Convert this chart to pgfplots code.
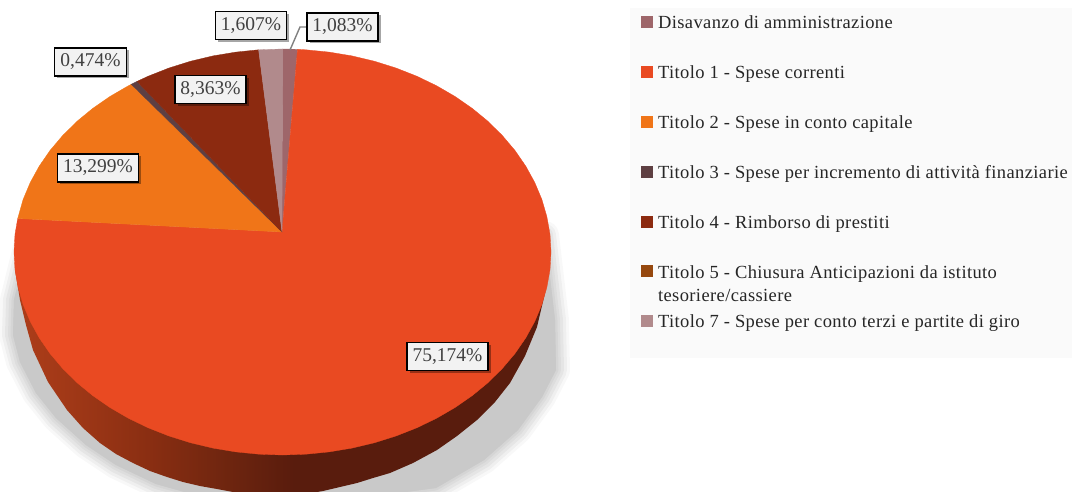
\documentclass[border=0pt]{standalone}
\usepackage{pgfplots}
\pgfplotsset{compat=1.18}
\usepackage{pgfplotstable}
\usepackage{fontspec}
\setmainfont{Liberation Serif}
\newfontfamily\legfont[LetterSpace=2.1]{Liberation Serif}
\usetikzlibrary{shadows}

\definecolor{cDis}{HTML}{9E666A}
\definecolor{cT1}{HTML}{E94A22}
\definecolor{cT2}{HTML}{F07518}
\definecolor{cT3}{HTML}{5E3F42}
\definecolor{cT4}{HTML}{8C2A10}
\definecolor{cT5}{HTML}{96480E}
\definecolor{cT7}{HTML}{B18A8C}
\definecolor{cShadow}{HTML}{C9C9C9}

\pgfdeclarehorizontalshading{sideshade}{100bp}{
  rgb(0bp)=(0.68,0.24,0.10);
  rgb(25bp)=(0.68,0.24,0.10);
  rgb(30bp)=(0.63,0.22,0.09);
  rgb(37.5bp)=(0.54,0.18,0.07);
  rgb(45bp)=(0.43,0.145,0.06);
  rgb(51bp)=(0.35,0.11,0.05);
  rgb(100bp)=(0.35,0.11,0.05)}

% pixel coordinates of the reference, y downwards
\pgfplotstableread{
x y
30 235
14 300
13 335
20 362
36 393
56 418
86 445
116 465
156 484
206 498
360 498
436 488
484 460
518 430
542 397
556 370
555 320
545 235
}\shadowtable

\pgfplotstableread{
x y
15 270
20 300
26 325
33 350
48 382
67 410
83 428
100 443
116 454
133 463
150 471
167 477
183 482
200 486
217 489
233 492
260 496
282 497
300 495
323 491
340 487
357 483
373 478
390 473
413 463
437 450
457 436
477 420
495 402
510 383
525 356
537 327
545 293
550 265
}\sidetable

\begin{document}
\begin{tikzpicture}
\useasboundingbox (0,0) rectangle (1072pt,492pt);
\begin{axis}[
  at={(0,0)}, anchor=south west,
  scale only axis,
  width=1072pt, height=492pt,
  xmin=0, xmax=1072,
  ymin=0, ymax=492,
  y dir=reverse,
  hide axis,
  legend image code/.code={\fill[#1] (0pt,-5.5pt) rectangle (11pt,5.5pt);},
  legend cell align=left,
  legend style={
    at={(axis cs:641,13)}, anchor=north west,
    draw=none, fill=none,
    inner xsep=0pt, inner ysep=0pt,
    row sep=33pt,
    column sep=2pt,
    font=\legfont\fontsize{18.5}{22}\selectfont,
    text=black!85,
    nodes={inner xsep=3.5pt, inner ysep=0pt},
  },
]

% shadow, soft edge from stacked strokes
\addplot[forget plot, draw=cShadow, fill=cShadow, opacity=0.12, line width=28pt, line join=round] table {\shadowtable} -- cycle;
\addplot[forget plot, draw=cShadow, fill=cShadow, opacity=0.2, line width=22pt, line join=round] table {\shadowtable} -- cycle;
\addplot[forget plot, draw=cShadow, fill=cShadow, opacity=0.25, line width=16pt, line join=round] table {\shadowtable} -- cycle;
\addplot[forget plot, draw=cShadow, fill=cShadow, opacity=0.3, line width=10pt, line join=round] table {\shadowtable} -- cycle;
\addplot[forget plot, draw=cShadow, fill=cShadow, opacity=0.4, line width=5pt, line join=round] table {\shadowtable} -- cycle;
\addplot[forget plot, draw=none, fill=cShadow] table {\shadowtable} -- cycle;

% pie side
\addplot[forget plot, draw=none, shading=sideshade] table {\sidetable} -- cycle;

% legend panel
\addplot[forget plot, draw=none, fill=black!2] coordinates {(630,8) (1072,8) (1072,358) (630,358)} -- cycle;

% wedges, 1,083 / 75,174 / 13,299 / 0,474 / 8,363 / 0 / 1,607
\addplot[draw=cDis, line width=.3pt, fill=cDis] coordinates {
  (282.5,49) (297.5,49.3) (282,232)} -- cycle;
\addlegendentry{\strut Disavanzo di amministrazione}

\addplot[draw=cT1, line width=.3pt, fill=cT1] coordinates {
  (297.5,49.3) (305.9,49.8) (329.1,52.1) (352,55.9) (374.3,61.2) (396,68)
  (416.8,76.2) (436.5,85.7) (455.1,96.5) (472.4,108.5) (488.2,121.5)
  (502.4,135.6) (515,150.5) (525.8,166.2) (534.8,182.6) (541.9,199.5)
  (546.9,216.8) (550,234.3) (551,252) (550,269.7) (546.9,287.2) (541.9,304.5)
  (534.8,321.4) (525.8,337.8) (515,353.5) (502.4,368.4) (488.2,382.5)
  (472.4,395.5) (455.1,407.5) (436.5,418.3) (416.8,427.8) (396,436)
  (374.3,442.8) (352,448.1) (329.1,451.9) (305.9,454.2) (282.5,455)
  (259.1,454.2) (235.9,451.9) (213,448.1) (190.7,442.8) (169,436)
  (148.2,427.8) (128.5,418.3) (109.9,407.5) (92.6,395.5) (76.8,382.5)
  (62.6,368.4) (50,353.5) (39.2,337.8) (30.2,321.4) (23.1,304.5)
  (18.1,287.2) (15,269.7) (14,252) (15,234.3) (17.7,218.5) (282,232)} -- cycle;
\addlegendentry{\strut Titolo 1 - Spese correnti}

\addplot[draw=cT2, line width=.3pt, fill=cT2] coordinates {
  (17.7,218.5) (23.1,199.5) (30.2,182.6) (39.2,166.2) (50,150.5) (62.6,135.6)
  (76.8,121.5) (92.6,108.5) (109.9,96.5) (128.5,85.7) (131.2,84.3) (282,232)} -- cycle;
\addlegendentry{\strut Titolo 2 - Spese in conto capitale}

\addplot[draw=cT3, line width=.3pt, fill=cT3] coordinates {
  (131.2,84.3) (137,81.4) (282,232)} -- cycle;
\addlegendentry{\strut Titolo 3 - Spese per incremento di attività finanziarie}

\addplot[draw=cT4, line width=.3pt, fill=cT4] coordinates {
  (137,81.4) (148.2,76.2) (169,68) (190.7,61.2) (213,55.9) (235.9,52.1)
  (258.6,49.8) (282,232)} -- cycle;
\addlegendentry{\strut Titolo 4 - Rimborso di prestiti}

\addlegendimage{draw=cT5, fill=cT5}
\addlegendentry{\strut\makebox[0pt][l]{\raisebox{-23pt}[0pt][0pt]{tesoriere/cassiere}}Titolo 5 - Chiusura Anticipazioni da istituto}

\addplot[draw=cT7, line width=.3pt, fill=cT7] coordinates {
  (258.6,49.8) (282.5,49) (282,232)} -- cycle;
\addlegendentry{\strut Titolo 7 - Spese per conto terzi e partite di giro}

% leader of the 1,083% label
\addplot[forget plot, draw=black!50, line width=1.4pt] coordinates {(290,50) (300,27) (308,27)};

\tikzset{lab/.style={draw=black, line width=1.6pt, fill=black!5, text=black!75,
  minimum height=28pt, inner xsep=1pt, inner ysep=0pt,
  font=\fontsize{19.5}{20}\selectfont,
  drop shadow={shadow xshift=2.5pt, shadow yshift=-2.5pt, fill=black, opacity=0.35}}}
\node[lab, minimum width=71pt] at (axis cs:251,25.5) {1,607\%};
\node[lab, minimum width=71pt] at (axis cs:342.5,27) {1,083\%};
\node[lab, minimum width=72pt] at (axis cs:90.5,62) {0,474\%};
\node[lab, minimum width=71pt] at (axis cs:210.5,89.5) {8,363\%};
\node[lab, minimum width=81pt] at (axis cs:98,168) {13,299\%};
\node[lab, minimum width=81pt] at (axis cs:447.5,356.5) {75,174\%};
\end{axis}
\end{tikzpicture}
\end{document}
